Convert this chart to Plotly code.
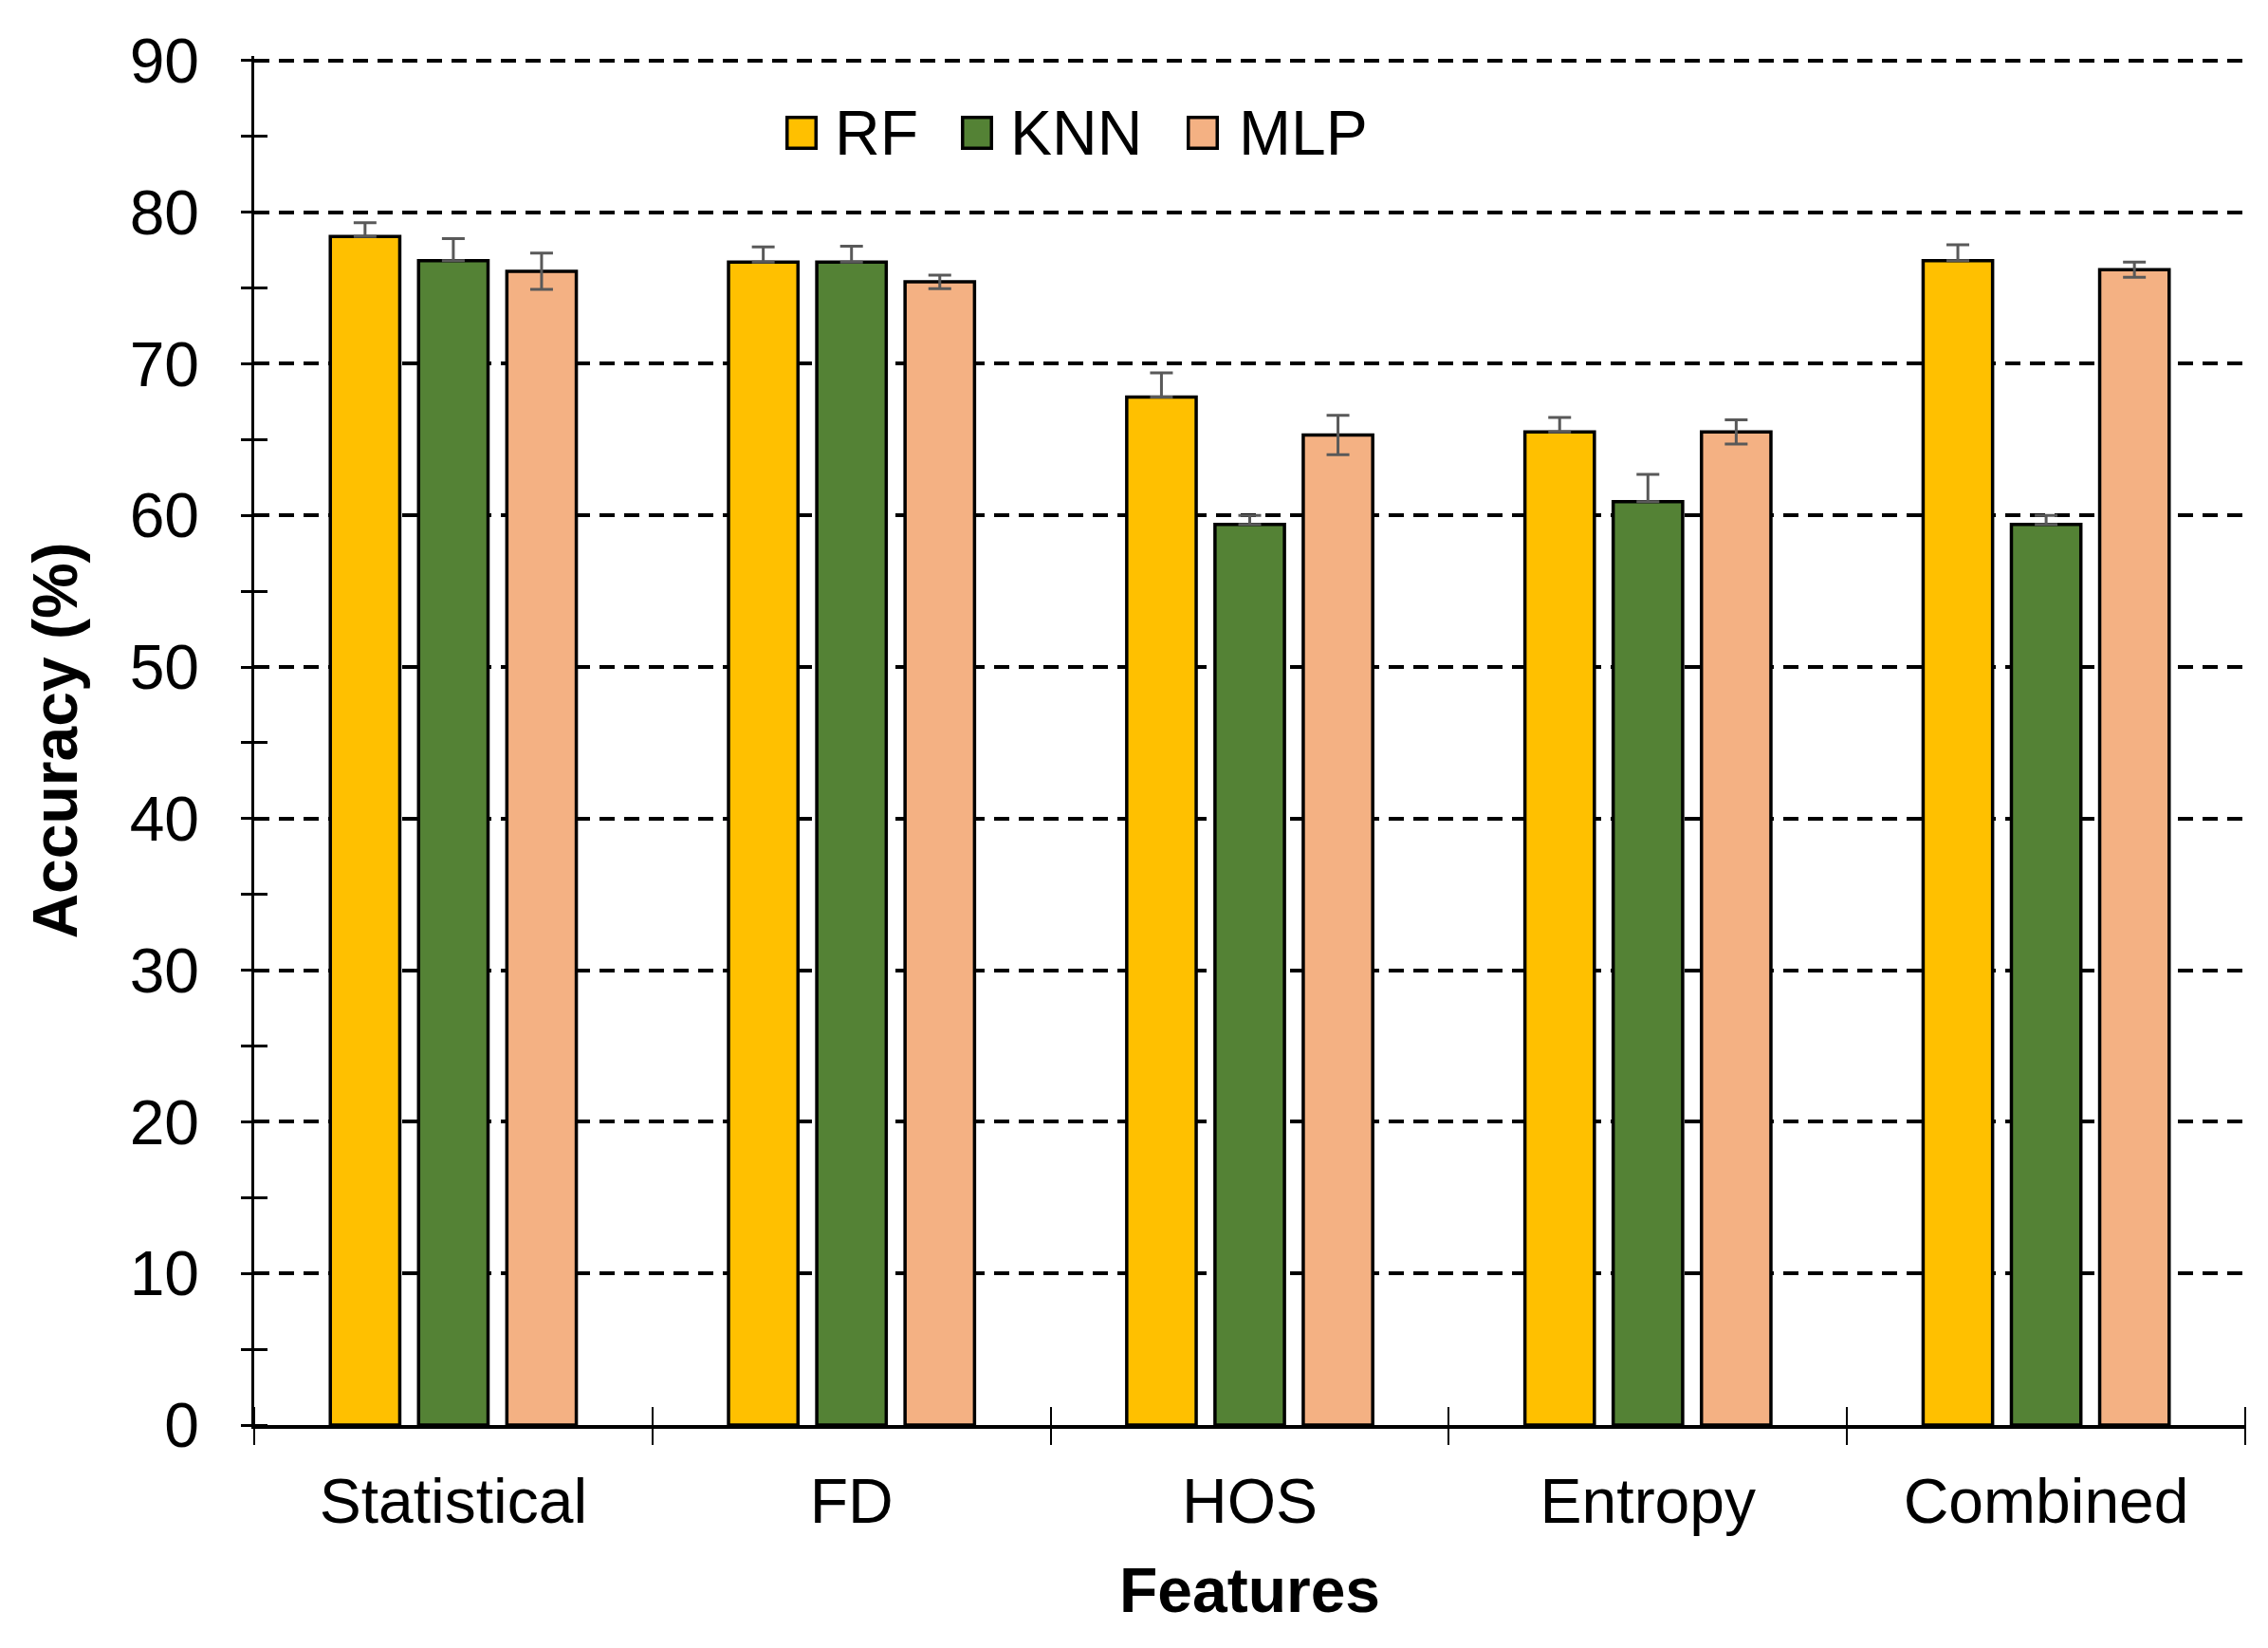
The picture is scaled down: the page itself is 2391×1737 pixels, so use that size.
import plotly.graph_objects as go

categories = ["Statistical", "FD", "HOS", "Entropy", "Combined"]
series_names = ["RF", "KNN", "MLP"]
rf_values = [78.4, 76.7, 67.8, 65.5, 76.8]
knn_values = [76.8, 76.7, 59.4, 60.9, 59.4]
mlp_values = [76.1, 75.4, 65.3, 65.5, 76.2]
rf_err = [0.9, 1.0, 1.6, 0.95, 1.05]
knn_err = [1.45, 1.05, 0.6, 1.8, 0.6]
mlp_err = [1.2, 0.45, 1.3, 0.8, 0.5]
colors = ["#FFC000", "#548235", "#F4B183"]
y_ticks = [0, 10, 20, 30, 40, 50, 60, 70, 80, 90]

FONT = "Liberation Sans, Arial, sans-serif"
FS = 66
Y_RANGE = [0, 90.3]

fig = go.Figure()
values = [rf_values, knn_values, mlp_values]
errs = [rf_err, knn_err, mlp_err]
for i, name in enumerate(series_names):
    if name == "MLP":
        ey = dict(type="data", array=errs[i], symmetric=True,
                  color="#595959", thickness=3, width=12)
    else:
        ey = dict(type="data", array=errs[i], arrayminus=[0] * len(errs[i]),
                  symmetric=False, color="#595959", thickness=3, width=12)
    fig.add_trace(go.Bar(
        x=categories, y=values[i], name=name,
        marker=dict(color=colors[i], line=dict(color="black", width=3.5)),
        error_y=ey, showlegend=False,
    ))

# invisible helper trace so the crossing-tick axes are rendered
fig.add_trace(go.Scatter(
    x=list(range(len(categories))), y=rf_values, xaxis="x2", yaxis="y2",
    mode="markers", marker=dict(opacity=0), hoverinfo="skip", showlegend=False,
))

plot_w = 2383 - 260 - 24
plot_h = 1729 - 51 - 235

fig.update_layout(
    width=2383, height=1729,
    paper_bgcolor="white", plot_bgcolor="white",
    margin=dict(l=260, r=24, t=51, b=235),
    barmode="group", bargap=0.335, bargroupgap=0.213,
    font=dict(family=FONT, size=FS, color="black"),
    xaxis=dict(
        type="category", categoryorder="array", categoryarray=categories,
        range=[-0.5, 4.5],
        showline=True, linecolor="black", linewidth=3.5,
        ticks="", ticklabelstandoff=20,
        tickfont=dict(family=FONT, size=FS, color="black"),
        title=dict(text="<b>Features</b>", font=dict(family=FONT, size=FS, color="black"), standoff=36),
        showgrid=False, zeroline=False,
    ),
    yaxis=dict(
        range=Y_RANGE, tickvals=y_ticks,
        showline=True, linecolor="black", linewidth=2.5,
        ticks="", ticklabelstandoff=42,
        tickfont=dict(family=FONT, size=FS, color="black"),
        showgrid=True, gridcolor="black", gridwidth=3.5, griddash="16px,10px",
        zeroline=False,
        title=dict(text="<b>Accuracy (%)</b>", font=dict(family=FONT, size=FS, color="black"), standoff=34),
    ),
    # crossing ticks: outside ticks on axes shifted half a tick length into the plot
    xaxis2=dict(
        overlaying="x", anchor="free", position=20 / plot_h, side="bottom", type="linear",
        range=[-0.5, 4.5], tick0=-0.5, dtick=1,
        ticks="outside", ticklen=40, tickwidth=2, tickcolor="black",
        showticklabels=False, showgrid=False, zeroline=False, showline=False,
    ),
    yaxis2=dict(
        overlaying="y", anchor="free", position=14 / plot_w, side="left",
        range=Y_RANGE, tick0=0, dtick=5,
        ticks="outside", ticklen=28, tickwidth=2.5, tickcolor="black",
        showticklabels=False, showgrid=False, zeroline=False, showline=False,
    ),
)

# Legend drawn as colored boxes + labels
legend_box_x = [0.2749, 0.3630, 0.4764]
legend_text_x = [0.2906, 0.3787, 0.4936]
legend_y = (1494 - 131.5) / plot_h
for i, name in enumerate(series_names):
    fig.add_annotation(
        xref="paper", yref="paper", x=legend_box_x[i], y=legend_y,
        text=" ", showarrow=False, bgcolor=colors[i], bordercolor="black",
        borderwidth=3.5, width=27, height=29, borderpad=0,
        xanchor="center", yanchor="middle", font=dict(size=10),
    )
    fig.add_annotation(
        xref="paper", yref="paper", x=legend_text_x[i], y=legend_y,
        text=name, showarrow=False, xanchor="left", yanchor="middle",
        font=dict(family=FONT, size=FS, color="black"),
    )

fig.write_html("out.html")
